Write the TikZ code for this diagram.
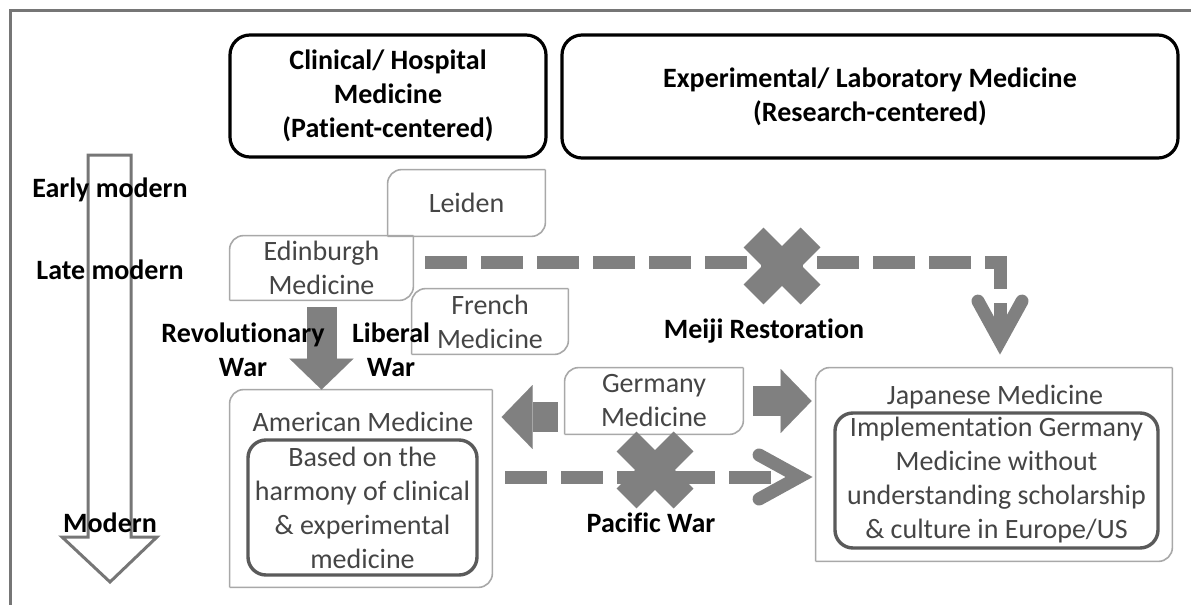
\documentclass[tikz,border=0pt]{standalone}
\usepackage{fontspec}
\setmainfont{Carlito}[Ligatures={NoCommon}]
\usetikzlibrary{arrows.meta,positioning,calc,shapes.misc}
\definecolor{ink}{HTML}{000000}
\definecolor{ink2}{HTML}{454545}
\definecolor{rule}{HTML}{767676}
\definecolor{soft}{HTML}{A8A8A8}
\definecolor{inner}{HTML}{5A5A5A}
\definecolor{flow}{HTML}{808080}
\tikzset{
  every node/.style={font=\fontsize{14pt}{17pt}\selectfont},
  headbox/.style={draw=ink, line width=1.6pt, rounded corners=10pt, align=center,
    text=ink, font=\fontsize{14pt}{17pt}\selectfont\bfseries, inner sep=0pt},
  softbox/.style={align=center, text=ink2, inner sep=0pt, fill=white},
  softline/.style={draw=soft, line width=0.8pt, rounded corners=7pt},
  corebox/.style={draw=inner, line width=1.7pt, rounded corners=9pt, align=center,
    text=ink2, inner sep=0pt},
  lbl/.style={text=ink, align=center, font=\fontsize{14pt}{17pt}\selectfont\bfseries},
  ttl/.style={text=ink2, align=center},
  blockarr/.style={draw=flow, line width=15pt,
    -{Triangle[length=15.5pt,width=32pt,line width=0.01pt]}},
  dasharr/.style={draw=flow, line width=6.5pt, dash pattern=on 21pt off 7pt,
    -{Straight Barb[length=20pt,width=22pt,line cap=round,line join=miter]}},
  xmark/.style={cross out, draw=flow, line width=14pt, minimum size=28.5pt,
    inner sep=0pt, outer sep=0pt},
  era/.style={draw=rule, line width=1.5pt, line join=miter},
}
\newcommand{\softframe}[1]{% #1 = node name; only NW and SE corners rounded
  \draw[softline] (#1.south west) -- (#1.north west) -- (#1.north east);
  \draw[softline] (#1.north east) -- (#1.south east) -- (#1.south west);}

\begin{document}
\begin{tikzpicture}[x=0.5pt, y=-0.5pt]
  \useasboundingbox (0,0) rectangle (1191,605);
  % ===================== frame and time line =====================
  \draw[draw=rule, line width=1.5pt] (10,605) -- (10,10) -- (1191,10);
  \draw[era] (88,155) -- (131,155) -- (131,537) -- (157,537) -- (110,582)
    -- (62,537) -- (88,537) -- cycle;
  \node[lbl] (early) at (110,190) {Early modern};
  \node[lbl] (late) at (110,270) {Late modern};
  \node[lbl] (modern) at (110,523) {Modern};

  % ===================== headers =====================
  \node[headbox, minimum width=158pt, minimum height=61pt] (clin) at (388,96)
    {Clinical/ Hospital\\Medicine\\(Patient-centered)};
  \node[headbox, minimum width=308pt, minimum height=61.5pt] (expt) at (870,96.5)
    {Experimental/ Laboratory Medicine\\(Research-centered)};

  % ===================== schools =====================
  \node[softbox, minimum width=91.5pt, minimum height=32pt] (edin) at (321.5,268) {Edinburgh\\Medicine};
  \node[softbox, minimum width=78.5pt, minimum height=33pt] (leid) at (466.5,203) {Leiden};
  \node[softbox, minimum width=78pt, minimum height=32.5pt] (fren) at (490,321.5) {French\\Medicine};
  \node[softbox, minimum width=89pt, minimum height=33pt] (germ) at (654,401) {Germany\\Medicine};
  \node[softbox, minimum width=131pt, minimum height=98.5pt] (amer) at (361,488.5) {};
  \node[softbox, minimum width=178pt, minimum height=96.5pt] (japn) at (994,464.5) {};
  \foreach \b in {edin,leid,fren,germ,amer,japn}{\softframe{\b}}
  \node[ttl] (amert) at (363,422) {American Medicine};
  \node[corebox, minimum width=114.5pt, minimum height=67.5pt] (amerc) at (362.5,507.5)
    {Based on the\\harmony of clinical\\\& experimental\\medicine};
  \node[ttl] (japnt) at (995,397) {Japanese Medicine};
  \node[corebox, minimum width=161.5pt, minimum height=67.5pt] (japnc) at (996.5,480.5)
    {Implementation Germany\\Medicine without\\understanding scholarship\\\& culture in Europe/US};

  % ===================== transfers =====================
  \draw[blockarr] ([yshift=-3.5pt]edin.south) -- (edin.south |- amer.north);
  \draw[blockarr] ([xshift=-3.5pt,yshift=-8pt]germ.west) -- +(-28pt,0);
  \draw[blockarr] ([xshift=5pt]germ.east) -- ([xshift=-2pt]germ.east -| japn.west);
  \draw[dasharr] ([xshift=6pt,yshift=3pt]edin.east) -| ([xshift=3pt,yshift=6.5pt]japn.north);
  \coordinate (pac) at ([xshift=6.5pt,yshift=5.75pt]amer.east);
  \draw[dasharr] (pac) -- ([xshift=-1.5pt]pac -| japn.west);
  \node[xmark] (meijix) at (782,266) {};
  \node[xmark] (pacx) at (655,470) {};

  % ===================== events =====================
  \node[lbl] (revw) at (243,350) {Revolutionary\\War};
  \node[lbl] (libw) at (391,350) {Liberal\\War};
  \node[lbl] (meiji) at (764,331) {Meiji Restoration};
  \node[lbl] (pacw) at (651,523) {Pacific War};
\end{tikzpicture}
\end{document}
